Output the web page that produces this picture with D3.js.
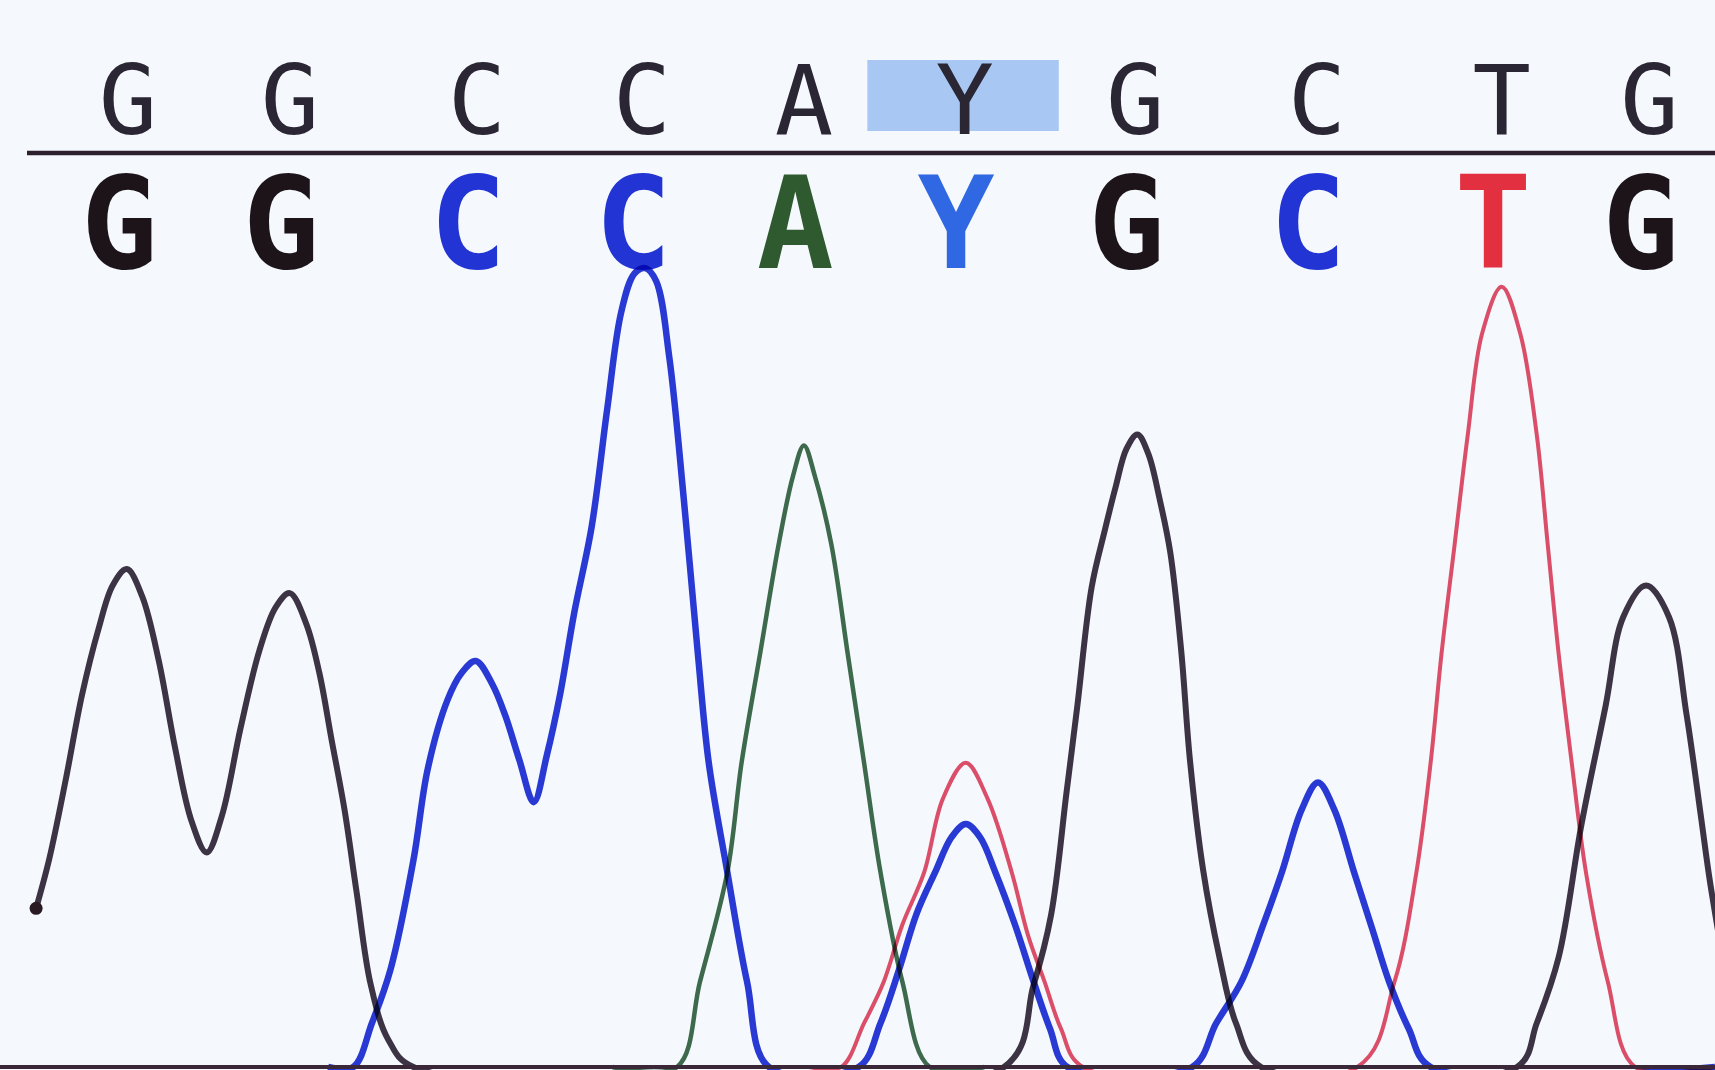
<!DOCTYPE html>
<html>
<head>
<meta charset="utf-8">
<script src="https://cdn.jsdelivr.net/npm/d3@7"></script>
<style>
  html, body { margin: 0; padding: 0; background: #f5f8fc; overflow: hidden; }
  svg { display: block; }
</style>
</head>
<body>
<svg id="chrom"></svg>
<script>
// Base calls: reference row (top) and sample row (bottom)
const refCalls = ["G", "G", "C", "C", "A", "Y", "G", "C", "T", "G"];
const sampleCalls = ["G", "G", "C", "C", "A", "Y", "G", "C", "T", "G"];
// Scan position of each called peak
const peakScan = [117, 265, 436, 587, 735, 882, 1038, 1204, 1373, 1508];
const highlightIndex = 5;

// Trace samples [scan, signal]
const traceG = [
  [33, 145], [45, 190], [60, 262], [75, 340], [90, 400], [103, 440], [116, 455],
  [130, 430], [145, 372], [160, 292], [175, 225], [189, 196], [203, 230],
  [220, 310], [237, 380], [252, 420], [265, 433], [280, 405], [292, 360],
  [303, 300], [315, 235], [326, 160], [339, 75], [355, 25], [378, 0],
  [918, 0], [945, 75], [961, 139], [975, 250], [985, 330], [998, 438],
  [1010, 490], [1020, 530], [1030, 565], [1040, 578], [1050, 560], [1060, 520],
  [1070, 470], [1080, 380], [1088, 280], [1100, 180], [1115, 100], [1130, 40],
  [1153, 0], [1387, 0], [1405, 40], [1425, 100], [1446, 222], [1468, 330],
  [1484, 411], [1505, 440], [1526, 411], [1542, 322], [1555, 230], [1563, 172],
  [1575, 100]
];
const traceA = [
  [560, 0], [619, 0], [640, 78], [665, 178], [678, 278], [695, 378], [712, 478],
  [725, 540], [735, 568], [745, 540], [760, 478], [775, 378], [790, 278],
  [805, 178], [825, 78], [850, 0], [900, 0]
];
const traceC = [
  [300, 0], [323, 0], [340, 40], [357, 89], [378, 189], [391, 272], [409, 335],
  [422, 360], [435, 371], [450, 350], [462, 321], [475, 280], [488, 242],
  [500, 285], [512, 340], [525, 415], [541, 494], [555, 600], [568, 690],
  [580, 725], [590, 730], [600, 718], [612, 648], [625, 521], [638, 378],
  [648, 278], [665, 178], [683, 78], [703, 0],
  [785, 0], [805, 40], [822, 89], [838, 140], [855, 178], [870, 210], [883, 222],
  [896, 210], [910, 178], [928, 130], [945, 78], [960, 35], [976, 0],
  [1090, 0], [1112, 40], [1135, 78], [1155, 130], [1172, 178], [1190, 235],
  [1205, 260], [1220, 235], [1238, 178], [1255, 125], [1270, 78], [1288, 35],
  [1308, 0], [1568, 0]
];
const traceT = [
  [740, 0], [769, 0], [790, 40], [808, 78], [825, 130], [845, 178], [862, 245],
  [883, 278], [903, 245], [925, 178], [940, 120], [955, 78], [970, 35], [990, 0],
  [1241, 0], [1275, 78], [1295, 178], [1308, 278], [1318, 378], [1330, 478],
  [1342, 578], [1355, 670], [1373, 713], [1390, 670], [1405, 578], [1415, 478],
  [1425, 378], [1437, 278], [1450, 178], [1470, 78], [1495, 0], [1568, 0]
];

const W = 1715, H = 1070;
const svg = d3.select("#chrom").attr("width", W).attr("height", H);

const x = d3.scaleLinear().domain([0, 1568]).range([0, W]);
const y = d3.scaleLinear().domain([0, 975]).range([1067, 0]);

const letterColor = { G: "#1c1418", C: "#2234d4", A: "#2f5a30", T: "#e23040", Y: "#2f68e2" };

svg.append("rect").attr("width", W).attr("height", H).attr("fill", "#f5f8fc");

// highlight behind the ambiguous call
svg.append("rect")
  .attr("x", x(793)).attr("y", 60)
  .attr("width", x(968) - x(793)).attr("height", 71)
  .attr("fill", "#a8c7f2");

// reference row
svg.selectAll(".ref")
  .data(refCalls)
  .enter()
  .append("text")
  .attr("class", "ref")
  .attr("x", (d, i) => x(peakScan[i]))
  .attr("y", 134)
  .attr("text-anchor", "middle")
  .attr("font-family", "DejaVu Sans Mono")
  .attr("font-size", 97)
  .attr("fill", "#2a2633")
  .text((d) => d);

// separator
svg.append("line")
  .attr("x1", 27).attr("x2", W)
  .attr("y1", 153).attr("y2", 153)
  .attr("stroke", "#2d1f2d").attr("stroke-width", 4.5);

// sample row
svg.selectAll(".call")
  .data(sampleCalls)
  .enter()
  .append("text")
  .attr("class", "call")
  .attr("x", (d, i) => x(peakScan[i] - 8))
  .attr("y", 268)
  .attr("text-anchor", "middle")
  .attr("font-family", "DejaVu Sans Mono")
  .attr("font-weight", "bold")
  .attr("font-size", 128)
  .attr("fill", (d) => letterColor[d])
  .text((d) => d);

// traces
const line = d3.line()
  .x((d) => x(d[0]))
  .y((d) => y(d[1]))
  .curve(d3.curveCatmullRom.alpha(0.5));

const traces = [
  { data: traceA, color: "#3f6c4e", w: 4.5 },
  { data: traceT, color: "#e4506a", w: 4 },
  { data: traceC, color: "#2a3ad6", w: 6.5 },
  { data: traceG, color: "#3e3545", w: 6 }
];

svg.selectAll(".trace")
  .data(traces)
  .enter()
  .append("path")
  .attr("class", "trace")
  .attr("d", (d) => line(d.data))
  .attr("fill", "none")
  .attr("stroke", (d) => d.color)
  .attr("stroke-width", (d) => d.w)
  .attr("stroke-linejoin", "round")
  .style("mix-blend-mode", "multiply");

svg.append("circle")
  .attr("cx", x(traceG[0][0])).attr("cy", y(traceG[0][1]))
  .attr("r", 6.5).attr("fill", "#2a1a22");

// baseline
svg.append("line")
  .attr("x1", 0).attr("x2", W)
  .attr("y1", y(0)).attr("y2", y(0))
  .attr("stroke", "#3a2838").attr("stroke-width", 4);
</script>
</body>
</html>
